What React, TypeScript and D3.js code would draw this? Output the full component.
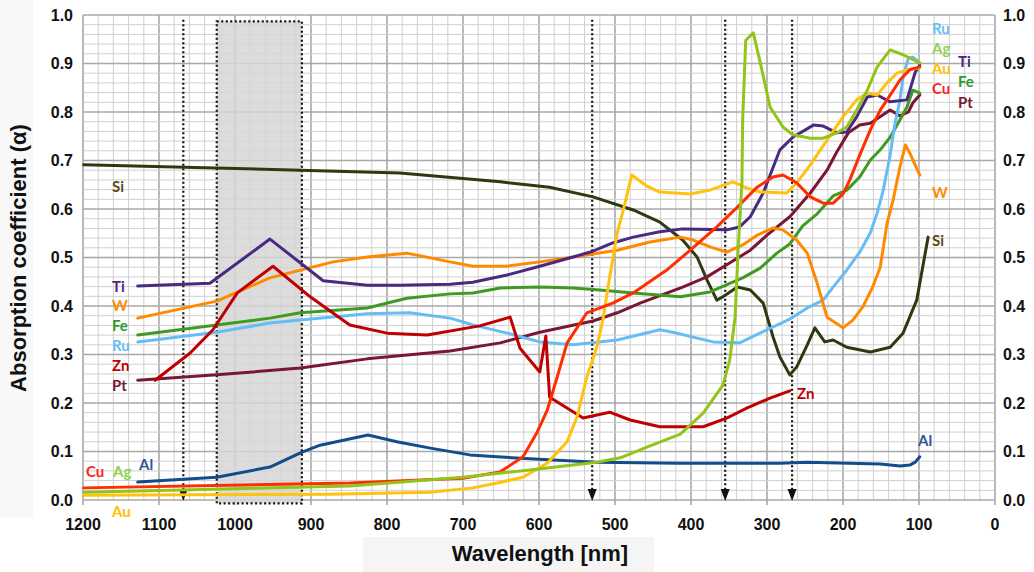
import React from "react";
import * as d3 from "d3";

type Pt = [number, number];

// Absorption spectra: [wavelength (nm), absorption coefficient]
const si: Pt[] = [[1199,0.691],[914,0.68],[783,0.674],[651,0.656],[586,0.645],[529,0.625],[476,0.598],[441,0.573],[411,0.536],[392,0.501],[379,0.454],[366,0.412],[358,0.419],[339,0.439],[322,0.433],[305,0.406],[292,0.336],[283,0.295],[270,0.258],[261,0.274],[247,0.32],[237,0.355],[224,0.326],[213,0.33],[195,0.315],[164,0.305],[138,0.315],[121,0.344],[103,0.412],[88,0.542]];
const ti: Pt[] = [[1128,0.441],[1033,0.447],[954,0.538],[884,0.452],[826,0.443],[783,0.443],[717,0.445],[687,0.449],[642,0.464],[599,0.482],[555,0.501],[529,0.513],[503,0.53],[476,0.542],[441,0.553],[411,0.559],[353,0.557],[336,0.563],[322,0.584],[305,0.633],[283,0.722],[266,0.748],[239,0.773],[226,0.771],[208,0.757],[195,0.759],[182,0.79],[168,0.831],[155,0.835],[138,0.821],[116,0.825],[112,0.845],[105,0.882],[99,0.897]];
const w: Pt[] = [[1128,0.375],[1024,0.41],[954,0.458],[914,0.474],[871,0.491],[826,0.501],[774,0.509],[717,0.491],[687,0.482],[642,0.482],[599,0.491],[555,0.501],[497,0.515],[454,0.532],[414,0.542],[397,0.536],[375,0.522],[353,0.511],[332,0.526],[313,0.546],[292,0.561],[279,0.557],[261,0.536],[247,0.509],[234,0.447],[221,0.377],[200,0.355],[187,0.371],[174,0.398],[161,0.439],[151,0.48],[142,0.571],[134,0.619],[125,0.687],[118,0.732],[112,0.715],[99,0.67]];
const fe: Pt[] = [[1128,0.34],[1024,0.361],[954,0.375],[914,0.386],[826,0.396],[774,0.416],[717,0.425],[687,0.427],[651,0.437],[599,0.439],[555,0.437],[520,0.433],[476,0.427],[414,0.419],[375,0.429],[332,0.458],[309,0.478],[287,0.509],[270,0.528],[253,0.565],[234,0.59],[213,0.627],[195,0.639],[178,0.666],[164,0.701],[151,0.722],[138,0.748],[125,0.784],[116,0.81],[108,0.845],[99,0.839]];
const ru: Pt[] = [[1128,0.326],[1024,0.346],[954,0.365],[914,0.371],[826,0.384],[770,0.386],[717,0.375],[687,0.361],[642,0.344],[599,0.326],[555,0.32],[497,0.33],[441,0.351],[424,0.346],[371,0.326],[336,0.324],[300,0.351],[270,0.373],[247,0.396],[226,0.412],[213,0.439],[197,0.47],[178,0.511],[164,0.551],[155,0.592],[147,0.639],[138,0.711],[132,0.773],[125,0.825],[121,0.872],[114,0.911],[108,0.913],[99,0.901]];
const zn: Pt[] = [[1105,0.247],[1059,0.303],[1029,0.351],[997,0.427],[950,0.482],[901,0.419],[849,0.361],[800,0.344],[747,0.34],[678,0.359],[638,0.377],[625,0.313],[599,0.264],[591,0.338],[586,0.212],[542,0.169],[507,0.181],[480,0.165],[441,0.151],[384,0.151],[353,0.169],[326,0.19],[296,0.21],[270,0.225]];
const pt: Pt[] = [[1128,0.247],[1024,0.258],[914,0.272],[826,0.291],[717,0.307],[651,0.324],[599,0.346],[529,0.369],[497,0.386],[467,0.406],[411,0.439],[379,0.46],[353,0.485],[322,0.515],[300,0.546],[270,0.584],[243,0.633],[221,0.68],[208,0.718],[193,0.757],[178,0.773],[164,0.777],[138,0.804],[125,0.792],[114,0.8],[108,0.819],[99,0.835]];
const cu: Pt[] = [[1199,0.025],[849,0.035],[700,0.045],[651,0.058],[621,0.089],[603,0.138],[589,0.186],[576,0.254],[563,0.324],[537,0.386],[503,0.406],[476,0.427],[432,0.474],[401,0.515],[366,0.563],[339,0.604],[313,0.645],[292,0.666],[279,0.67],[261,0.654],[243,0.625],[226,0.612],[213,0.612],[200,0.631],[191,0.66],[178,0.711],[164,0.763],[151,0.804],[142,0.825],[125,0.866],[112,0.887],[99,0.893]];
const ag: Pt[] = [[1199,0.016],[849,0.029],[700,0.047],[612,0.062],[524,0.078],[493,0.087],[458,0.109],[414,0.136],[384,0.179],[358,0.237],[349,0.289],[342,0.377],[338,0.515],[333,0.654],[332,0.784],[328,0.948],[318,0.963],[309,0.903],[296,0.81],[279,0.769],[266,0.753],[243,0.746],[226,0.746],[208,0.757],[195,0.769],[182,0.804],[168,0.845],[155,0.893],[138,0.928],[121,0.918],[99,0.901]];
const au: Pt[] = [[1199,0.01],[875,0.012],[743,0.016],[687,0.025],[655,0.035],[621,0.047],[589,0.076],[563,0.12],[550,0.171],[537,0.254],[524,0.315],[516,0.371],[507,0.46],[497,0.551],[489,0.598],[478,0.67],[458,0.647],[441,0.635],[401,0.631],[375,0.639],[345,0.656],[326,0.643],[309,0.635],[274,0.633],[261,0.654],[243,0.691],[221,0.742],[200,0.79],[182,0.825],[168,0.839],[155,0.835],[142,0.86],[129,0.88],[116,0.887],[99,0.891]];
const al: Pt[] = [[1128,0.037],[1024,0.047],[954,0.068],[914,0.097],[888,0.113],[825,0.134],[787,0.12],[743,0.107],[691,0.093],[655,0.089],[612,0.085],[524,0.078],[414,0.076],[283,0.076],[247,0.078],[151,0.074],[125,0.07],[112,0.072],[105,0.078],[99,0.089]];

// Laser wavelengths marked with dotted arrows
const laserLines = [1068, 530, 355, 267];
// Shaded wavelength band
const band = [1024, 912];

const xTicks = [1200, 1100, 1000, 900, 800, 700, 600, 500, 400, 300, 200, 100, 0];
const yTicks = [0, 0.1, 0.2, 0.3, 0.4, 0.5, 0.6, 0.7, 0.8, 0.9, 1.0];

const series = [
  { name: "Si", data: si, color: "#2c3a10" },
  { name: "Pt", data: pt, color: "#7a1732" },
  { name: "Fe", data: fe, color: "#3f9a22" },
  { name: "Ru", data: ru, color: "#66bdf5" },
  { name: "W", data: w, color: "#ff8a00" },
  { name: "Ti", data: ti, color: "#4a2a80" },
  { name: "Zn", data: zn, color: "#c00000" },
  { name: "Al", data: al, color: "#124c8a" },
  { name: "Au", data: au, color: "#ffc20e" },
  { name: "Cu", data: cu, color: "#ff2e00" },
  { name: "Ag", data: ag, color: "#92c41a" },
];

// Element labels: [text, x px, y px, colour]
const labels: [string, number, number, string][] = [
  ["Si", 112, 187, "#5a4a20"],
  ["Ti", 112, 287, "#4a2a80"],
  ["W", 112, 306, "#ff8a00"],
  ["Fe", 112, 326, "#2e9a2e"],
  ["Ru", 112, 346, "#66bdf5"],
  ["Zn", 112, 366, "#c00000"],
  ["Pt", 112, 386, "#7a1732"],
  ["Cu", 86, 472, "#ff2020"],
  ["Ag", 113, 472, "#92d050"],
  ["Al", 139, 465, "#2f5597"],
  ["Au", 112, 512, "#ffc000"],
  ["Ru", 932, 29, "#66bdf5"],
  ["Ag", 932, 49, "#92d050"],
  ["Au", 932, 69, "#ffc000"],
  ["Cu", 932, 89, "#ff2020"],
  ["Ti", 958, 62, "#4a2a80"],
  ["Fe", 958, 82, "#2e9a2e"],
  ["Pt", 958, 103, "#7a1732"],
  ["W", 932, 193, "#ff8a00"],
  ["Si", 932, 241, "#5a4a20"],
  ["Zn", 797, 394, "#c00000"],
  ["Al", 918, 441, "#2f5597"],
];

export default function App() {
  const W = 1034, H = 572;
  const x = d3.scaleLinear().domain([1200, 0]).range([83, 995]);
  const y = d3.scaleLinear().domain([0, 1]).range([500, 15]);
  const line = d3.line<Pt>().x(d => x(d[0])).y(d => y(d[1])).curve(d3.curveLinear);

  const minorX = d3.range(0, 1201, 20);
  const minorY = d3.range(0, 51).map(i => i * 0.02);
  const font = "'Liberation Sans', Arial, sans-serif";

  return (
    <div style={{ position: "absolute", left: 0, top: 0 }}>
      <svg width={W} height={H} style={{ display: "block", background: "#fff" }}>
        {/* title backdrops */}
        <rect x={0} y={0} width={33} height={518} fill="#f8f8f8" />
        <rect x={363} y={537} width={291} height={35} fill="#f5f5f5" />

        {/* grid */}
        {minorX.map(v => (
          <line key={"mx" + v} x1={x(v)} x2={x(v)} y1={y(0)} y2={y(1)}
            stroke={v % 100 === 0 ? "#a8a8a8" : "#cfcfcf"} strokeWidth={v % 100 === 0 ? 1.6 : 1} />
        ))}
        {minorY.map((v, i) => (
          <line key={"my" + i} x1={x(1200)} x2={x(0)} y1={y(v)} y2={y(v)}
            stroke={i % 5 === 0 ? "#a8a8a8" : "#cfcfcf"} strokeWidth={i % 5 === 0 ? 1.6 : 1} />
        ))}
        {xTicks.map(v => (
          <line key={"tk" + v} x1={x(v)} x2={x(v)} y1={y(0)} y2={y(0) + 5} stroke="#a8a8a8" strokeWidth={1.6} />
        ))}

        {/* shaded band */}
        <rect x={x(band[0])} y={y(0.987)} width={x(band[1]) - x(band[0])} height={y(-0.007) - y(0.987)}
          fill="#d6d6d6" fillOpacity={0.85} stroke="#111" strokeWidth={2.2} strokeDasharray="2,2.5" />

        {/* laser wavelength markers */}
        {laserLines.map(v => (
          <g key={"ll" + v}>
            <line x1={x(v)} x2={x(v)} y1={y(0.99)} y2={y(0) - 8} stroke="#111" strokeWidth={2.2} strokeDasharray="2,2.5" />
            <path d={`M${x(v) - 4.5},${y(0) - 11} L${x(v) + 4.5},${y(0) - 11} L${x(v)},${y(0) + 1} Z`} fill="#111" />
          </g>
        ))}

        {/* spectra */}
        {series.map(s => (
          <path key={s.name} d={line(s.data) || ""} fill="none" stroke={s.color} strokeWidth={3}
            strokeLinejoin="round" strokeLinecap="round" />
        ))}

        {/* tick labels */}
        {yTicks.map(v => (
          <g key={"yl" + v} fontFamily={font} fontWeight="bold" fontSize={16} fill="#111">
            <text x={73} y={y(v)} dy="0.36em" textAnchor="end">{v.toFixed(1)}</text>
            <text x={1003} y={y(v)} dy="0.36em" textAnchor="start">{v.toFixed(1)}</text>
          </g>
        ))}
        {xTicks.map(v => (
          <text key={"xl" + v} x={x(v)} y={530} textAnchor="middle" fontFamily={font} fontWeight="bold" fontSize={16} fill="#111">{v}</text>
        ))}

        {/* element labels */}
        {labels.map(([t, lx, ly, c], i) => (
          <text key={"lb" + i} x={lx} y={ly} dy="0.36em" fontFamily="Lato, 'Open Sans', sans-serif" fontWeight="bold" fontSize={15} fill={c}>{t}</text>
        ))}

        {/* axis titles */}
        <text x={540} y={561} textAnchor="middle" fontFamily={font} fontWeight="bold" fontSize={22} fill="#111">Wavelength [nm]</text>
        <text transform="translate(26,258) rotate(-90)" textAnchor="middle" fontFamily={font} fontWeight="bold" fontSize={22} fill="#111">Absorption coefficient (α)</text>
      </svg>
    </div>
  );
}
